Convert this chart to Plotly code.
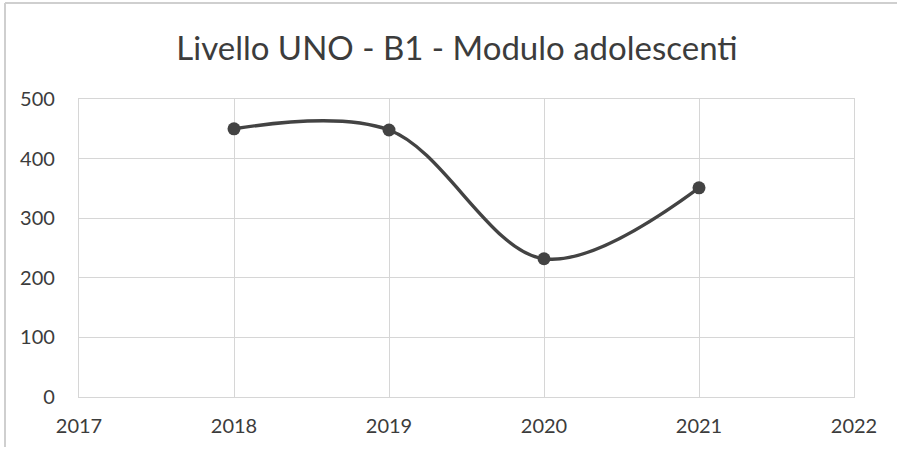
import plotly.graph_objects as go

years = [2018, 2019, 2020, 2021]
values = [450, 448, 232, 351]
x_ticks = [2017, 2018, 2019, 2020, 2021, 2022]
y_ticks = [0, 100, 200, 300, 400, 500]

W, H = 897, 454
ml, mr, mt, mb = 79, 43, 99, 57

fig = go.Figure()
fig.add_trace(go.Scatter(
    x=years, y=values, mode="lines+markers",
    line=dict(color="#434343", width=3.4, shape="spline", smoothing=1.0),
    marker=dict(color="#434343", size=13),
    showlegend=False, hoverinfo="skip",
))

grid = "#d6d6d6"
fig.update_layout(
    width=W, height=H,
    margin=dict(l=ml, r=mr, t=mt, b=mb),
    paper_bgcolor="white", plot_bgcolor="white",
    font=dict(family="Lato, Open Sans, sans-serif", color="#3c3c3c", size=19),
    title=dict(text="Livello UNO - B1 - Modulo adolescenti", x=457 / W, xanchor="center",
               y=1 - 48 / H, yanchor="middle",
               font=dict(size=33, color="#3c3c3c")),
    xaxis=dict(range=[2017, 2022], tickvals=x_ticks, ticktext=[str(v) for v in x_ticks],
               showgrid=True, gridcolor=grid, gridwidth=1.3, zeroline=False,
               showline=True, linecolor=grid, linewidth=1.3, mirror=True,
               ticks="", ticklabelstandoff=11, tickfont=dict(size=20, color="#3c3c3c")),
    yaxis=dict(range=[0, 500], tickvals=y_ticks, ticktext=[str(v) for v in y_ticks],
               showgrid=True, gridcolor=grid, gridwidth=1.3, zeroline=False,
               showline=True, linecolor=grid, linewidth=1.3, mirror=True,
               ticks="", ticklabelstandoff=19, tickfont=dict(size=20, color="#3c3c3c")),
)

# outer chart frame (partially visible in the screenshot)
pw = W - ml - mr
ph = H - mt - mb
def px_to_paper_x(px):
    return (px - ml) / pw
def px_to_paper_y(py):
    return (H - mb - py) / ph
fig.add_shape(type="line", xref="paper", yref="paper",
              x0=px_to_paper_x(5), x1=px_to_paper_x(5),
              y0=px_to_paper_y(3), y1=px_to_paper_y(447),
              line=dict(color="#cfcfcf", width=2))
fig.add_shape(type="line", xref="paper", yref="paper",
              x0=px_to_paper_x(5), x1=px_to_paper_x(897),
              y0=px_to_paper_y(3), y1=px_to_paper_y(3),
              line=dict(color="#cfcfcf", width=2))

fig.write_html("out.html")
